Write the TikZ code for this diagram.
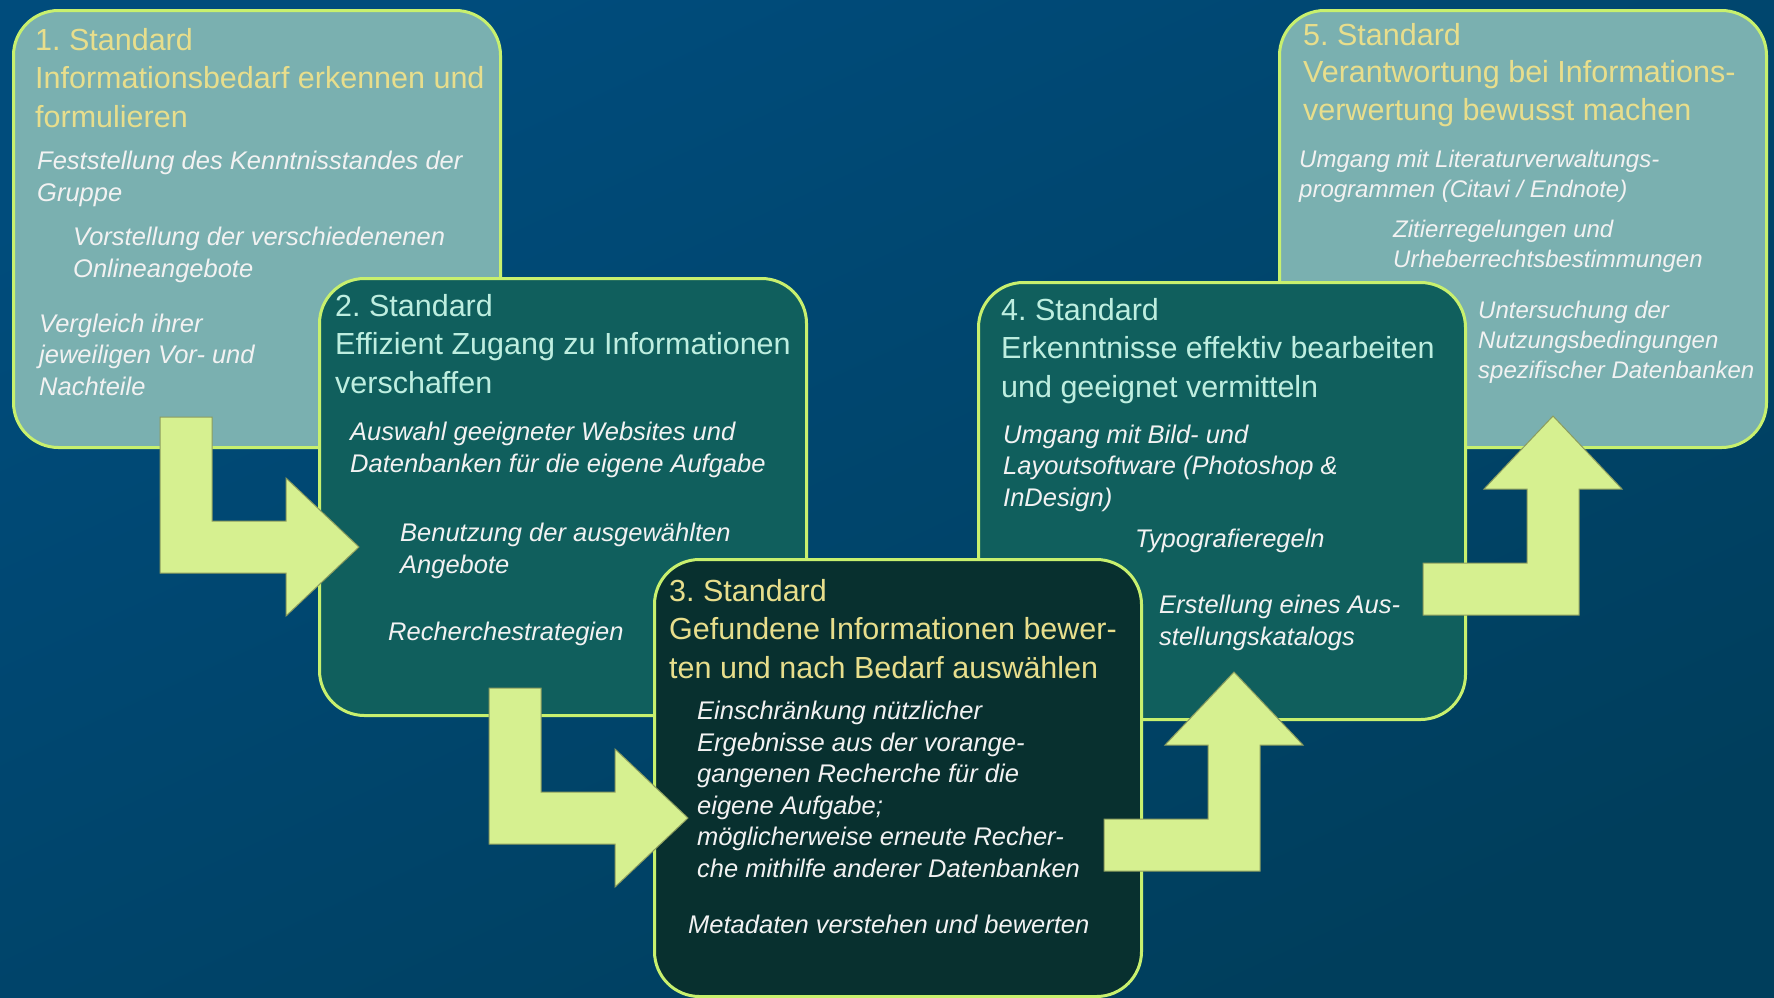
\documentclass[tikz,border=0pt]{standalone}
\usepackage{fontspec}
\setmainfont{Liberation Sans}
\frenchspacing

\definecolor{bgtop}{RGB}{0,76,124}
\definecolor{bgbot}{RGB}{0,62,92}
\definecolor{pale}{RGB}{122,176,176}
\definecolor{mid}{RGB}{16,95,93}
\definecolor{deep}{RGB}{8,48,47}
\definecolor{rim}{RGB}{200,240,110}
\definecolor{lime}{RGB}{214,240,144}
\definecolor{straw}{RGB}{232,222,140}
\definecolor{aqua}{RGB}{190,238,224}
\definecolor{chalk}{RGB}{242,242,242}

\begin{document}
\begin{tikzpicture}[x=1pt,y=1pt,
panel/.style={draw=rim,line width=3pt,rounded corners=45pt,anchor=north west,inner sep=0pt,minimum width=487pt,minimum height=437pt},
title/.style={anchor=base west,align=left,inner sep=0pt,font=\fontsize{30.5}{38.5}\selectfont},
point/.style={anchor=base west,align=left,inner sep=0pt,text=chalk,font=\fontsize{25.5}{31.5}\selectfont\itshape},
small/.style={point,font=\fontsize{24}{30}\selectfont\itshape},
turnarrow/.pic={\draw[fill=lime,draw=black!35!lime,line width=1pt] (0,0)--(-73,69)--(-73,26)--(-147,26)--(-147,130)--(-199,130)--(-199,-26)--(-73,-26)--(-73,-69)--cycle;}]
\useasboundingbox (0,0) rectangle (1774,-997);
\shade[top color=bgtop,bottom color=bgbot,shading angle=25] (0,0) rectangle (1774,-997);

\node[panel,fill=pale] (s1) at (12,-9) {};
\node[title,text=straw] (t1) at (35,-127) {1. Standard\\Informationsbedarf erkennen und\\formulieren};
\node[point] (p1a) at (37,-201) {Feststellung des Kenntnisstandes der\\Gruppe};
\node[point] (p1b) at (73,-277) {Vorstellung der verschiedenenen\\Onlineangebote};
\node[point] (p1c) at (39,-395) {Vergleich ihrer\\jeweiligen Vor- und\\Nachteile};

\node[panel,fill=pale] (s5) at (1278,-9) {};
\node[title,text=straw,font=\fontsize{30.5}{37.5}\selectfont] (t5) at (1303,-120) {5. Standard\\Verantwortung bei Informations-\\verwertung bewusst machen};
\node[small] (p5a) at (1299,-197) {Umgang mit Literaturverwaltungs-\\programmen (Citavi / Endnote)};
\node[small] (p5b) at (1393,-267) {Zitierregelungen und\\Urheberrechtsbestimmungen};
\node[small] (p5c) at (1478,-378) {Untersuchung der\\Nutzungsbedingungen\\spezifischer Datenbanken};

\node[panel,fill=mid] (s2) at (318,-277) {};
\node[title,text=aqua] (t2) at (335,-393) {2. Standard\\Effizient Zugang zu Informationen\\verschaffen};
\node[point] (p2a) at (350,-472) {Auswahl geeigneter Websites und\\Datenbanken für die eigene Aufgabe};
\node[point] (p2b) at (400,-573) {Benutzung der ausgewählten\\Angebote};
\node[point] (p2c) at (388,-640) {Recherchestrategien};

\node[panel,fill=mid] (s4) at (977,-281) {};
\node[title,text=aqua] (t4) at (1001,-397) {4. Standard\\Erkenntnisse effektiv bearbeiten\\und geeignet vermitteln};
\node[point] (p4a) at (1003,-506) {Umgang mit Bild- und\\Layoutsoftware (Photoshop \&\\InDesign)};
\node[point] (p4b) at (1135,-547) {Typografieregeln};
\node[point] (p4c) at (1159,-645) {Erstellung eines Aus-\\stellungskatalogs};

\node[panel,fill=deep] (s3) at (653,-558) {};
\node[title,text=straw] (t3) at (669,-678) {3. Standard\\Gefundene Informationen bewer-\\ten und nach Bedarf auswählen};
\node[point] (p3a) at (697,-877) {Einschränkung nützlicher\\Ergebnisse aus der vorange-\\gangenen Recherche für die\\eigene Aufgabe;\\möglicherweise erneute Recher-\\che mithilfe anderer Datenbanken};
\node[point] (p3b) at (688,-933) {Metadaten verstehen und bewerten};

\coordinate (a1) at (359,-547);
\coordinate (a2) at (688,-818);
\coordinate (a3) at (1234,-672);
\coordinate (a4) at (1553,-416);
\pic at (a1) {turnarrow};
\pic at (a2) {turnarrow};
\pic[rotate=90] at (a3) {turnarrow};
\pic[rotate=90] at (a4) {turnarrow};
\end{tikzpicture}
\end{document}
